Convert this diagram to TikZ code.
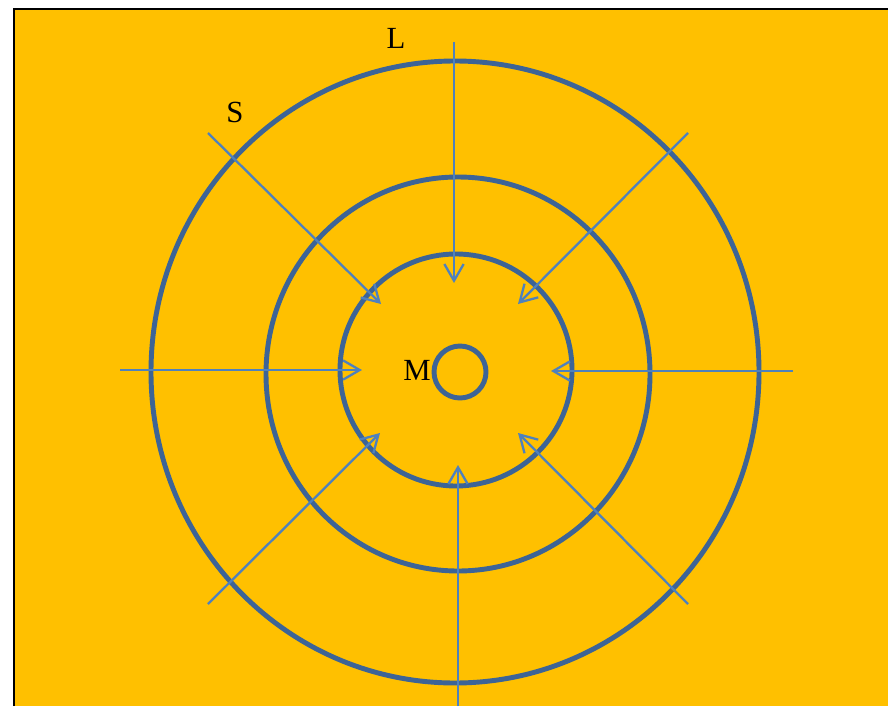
\documentclass[tikz,border=0pt]{standalone}
\usepackage{fontspec}
\setmainfont{Liberation Serif}
\usepackage{tikz}
\usetikzlibrary{arrows.meta}
\definecolor{mygold}{RGB}{255,192,0}
\definecolor{myring}{RGB}{61,100,150}
\definecolor{myray}{RGB}{79,129,189}
\tikzset{
  ring/.style={draw=myring, line width=2.8pt},
  ray/.style={-{Straight Barb[length=9.5pt,width=11pt]}, draw=myray, line width=1.3pt},
  lbl/.style={font=\fontsize{17.5}{17.5}\selectfont, text=black, inner sep=0pt}
}

\begin{document}
\begin{tikzpicture}[x=0.02cm, y=-0.02cm]
\useasboundingbox (0,0) rectangle (888,706);
\fill[white] (0,0) rectangle (888,706);
\fill[mygold] (14,9) rectangle (888,706);
\draw[black, line width=1.1pt] (14,706) -- (14,9) -- (888,9);

% rings
\draw[ring] (455,372) ellipse [x radius=304, y radius=311];
\draw[ring] (458,374) ellipse [x radius=192, y radius=197];
\draw[ring] (456,370) ellipse [x radius=116, y radius=116];
\draw[ring] (460,372) ellipse [x radius=26, y radius=26];

% ray ends
\coordinate (n0)  at (454,42);   \coordinate (n1)  at (454,283);
\coordinate (s0)  at (458,706);  \coordinate (s1)  at (458,465);
\coordinate (w0)  at (120,370);  \coordinate (w1)  at (362,370);
\coordinate (e0)  at (793,371);  \coordinate (e1)  at (551,371);
\coordinate (nw0) at (208,133);  \coordinate (nw1) at (381,304);
\coordinate (ne0) at (688,133);  \coordinate (ne1) at (518,304);
\coordinate (sw0) at (208,604);  \coordinate (sw1) at (380,433);
\coordinate (se0) at (688,604);  \coordinate (se1) at (518,433);

\draw[ray] (n0)  -- (n1);
\draw[ray] (s0)  -- (s1);
\draw[ray] (w0)  -- (w1);
\draw[ray] (e0)  -- (e1);
\draw[ray] (nw0) -- (nw1);
\draw[ray] (ne0) -- (ne1);
\draw[ray] (sw0) -- (sw1);
\draw[ray] (se0) -- (se1);

% labels
\node[lbl] (lL) at (396,38)  {L};
\node[lbl] (lS) at (235,112) {S};
\node[lbl] (lM) at (417,370) {M};
\end{tikzpicture}
\end{document}
